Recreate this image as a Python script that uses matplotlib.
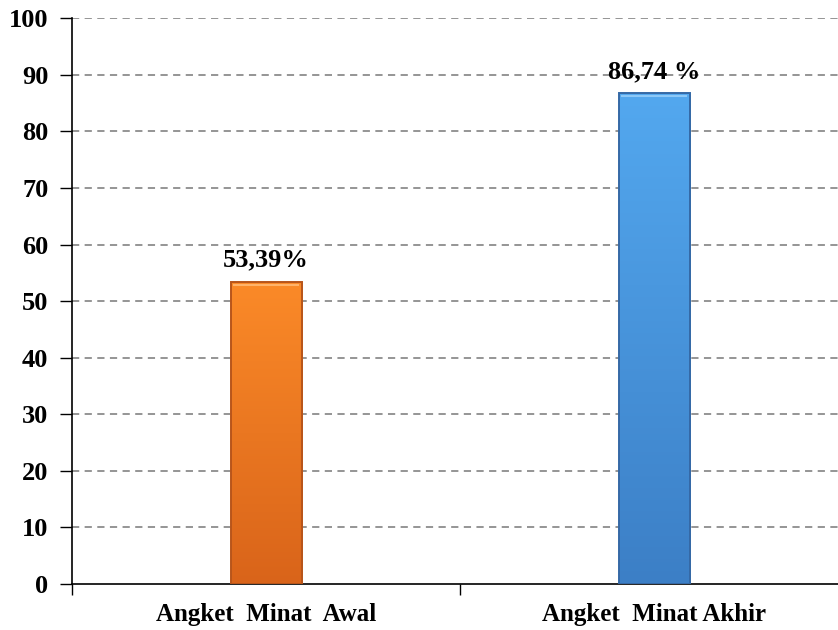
import numpy as np
import matplotlib.pyplot as plt
from matplotlib.colors import LinearSegmentedColormap
from matplotlib.patches import Rectangle

categories = ['Angket  Minat  Awal', 'Angket  Minat Akhir']
values = [53.39, 86.74]
value_labels = ['53,39%', '86,74 %']
yticks = list(range(0, 101, 10))

# top/bottom shades for each bar
shades = [('#fb8a28', '#d9641a'), ('#53a8ef', '#3c7fc6')]
edges = ['#b8551a', '#3569a6']
highlights = ['#ffb36a', '#8cc8f7']

plt.rcParams['font.family'] = ['Liberation Serif', 'DejaVu Serif']
plt.rcParams['font.weight'] = 'bold'

fig = plt.figure(figsize=(8.38, 6.3), dpi=100)
ax = fig.add_axes([0.086, 0.073, 0.926, 0.898])

x = np.arange(len(categories)) + 0.5
width = 0.183
grad = np.linspace(0, 1, 256).reshape(-1, 1)

for xi, v, (top, bot), ec, hl, lab in zip(x, values, shades, edges, highlights, value_labels):
    cmap = LinearSegmentedColormap.from_list('g', [bot, top])
    im = ax.imshow(grad, cmap=cmap, aspect='auto', origin='lower',
                   extent=(xi - width / 2, xi + width / 2, 0, v), zorder=3)
    rect = Rectangle((xi - width / 2, 0), width, v, facecolor='none',
                     edgecolor=ec, linewidth=1.4, zorder=4)
    ax.add_patch(rect)
    im.set_clip_path(rect)
    # light bevel along the top of each bar
    ax.plot([xi - width / 2 + 0.008, xi + width / 2 - 0.008], [v - 0.5, v - 0.5],
            color=hl, linewidth=1.5, zorder=4)
    ax.text(xi, v + 1.8, lab, ha='center', va='bottom', fontsize=19,
            fontweight='bold', zorder=5)

ax.set_xlim(0, 2)
ax.set_ylim(0, 100)
ax.set_yticks(yticks)
ax.set_yticklabels([str(t) for t in yticks], fontsize=19, fontweight='bold')
ax.set_xticks([0, 1, 2])
ax.set_xticklabels([])
ax.set_xticks(x, minor=True)
ax.set_xticklabels(categories, minor=True, fontsize=18, fontweight='bold')
ax.tick_params(axis='x', which='minor', length=0, pad=14)
ax.tick_params(axis='x', which='major', length=8, direction='out', width=1)
ax.tick_params(axis='y', length=9, direction='out', width=1, pad=8)

for t in yticks[1:]:
    ax.axhline(t, color='#8c8c8c', linestyle=(0, (4, 3)), linewidth=1.3, zorder=1)

for s in ['top', 'right']:
    ax.spines[s].set_visible(False)
ax.spines['left'].set_linewidth(1.2)
ax.spines['bottom'].set_linewidth(1.2)

fig.savefig('out.png', dpi=100)
